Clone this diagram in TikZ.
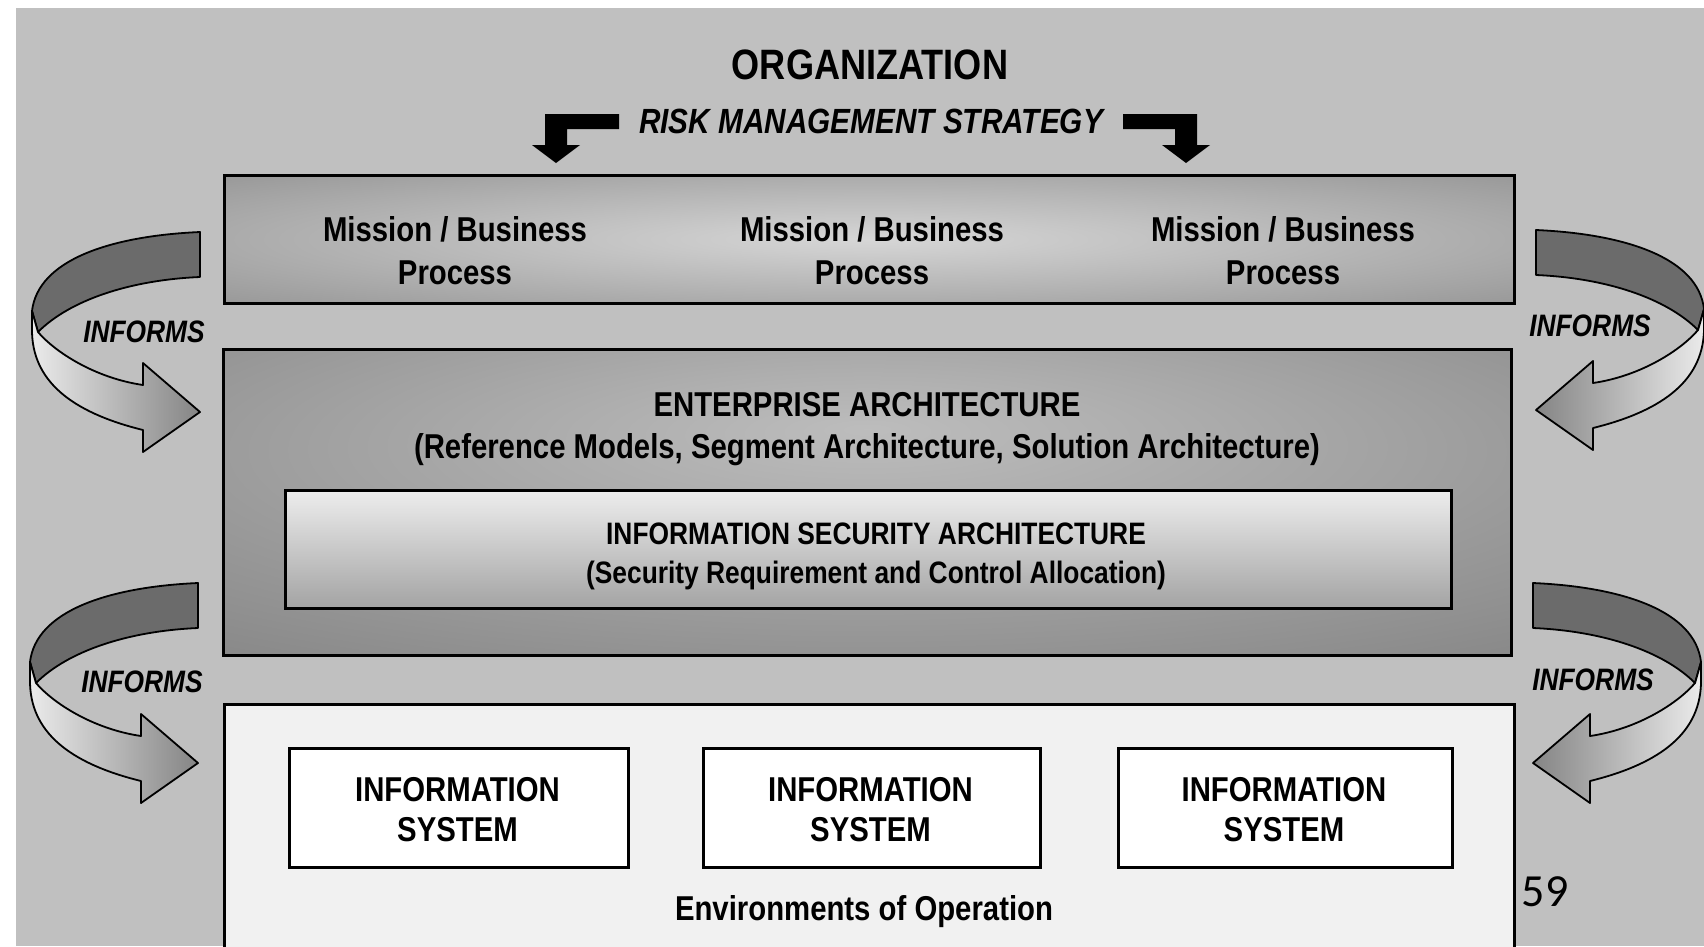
\documentclass[tikz,border=0pt]{standalone}
\usepackage{fontspec}
\setmainfont{Liberation Sans}[FakeStretch=0.85]
\newfontfamily\pagenumfont{Carlito}
\definecolor{bggray}{gray}{0.753}
\definecolor{missionOuter}{gray}{0.50}
\definecolor{missionInner}{gray}{0.84}
\definecolor{eaOuter}{gray}{0.46}
\definecolor{eaInner}{gray}{0.74}
\definecolor{isaTop}{gray}{0.93}
\definecolor{isaBottom}{gray}{0.64}
\definecolor{envfill}{gray}{0.945}
\definecolor{bandDark}{gray}{0.42}
\definecolor{bandLight}{gray}{0.92}
\definecolor{bandMid}{gray}{0.80}
\definecolor{bandTip}{gray}{0.52}
\pgfdeclareradialshading{missionglow}{\pgfpoint{0bp}{0bp}}{color(0bp)=(missionInner); color(50bp)=(missionOuter); color(75bp)=(missionOuter)}
\pgfdeclareradialshading{eaglow}{\pgfpoint{0bp}{12bp}}{color(0bp)=(eaInner); color(55bp)=(eaOuter); color(80bp)=(eaOuter)}
\newcommand\InformsArrow[3]{%
  \begin{scope}[#1]
    \filldraw[fill=bandDark, draw=black, line width=1.8pt, line join=round]
      (200,232) .. controls (110,236) and (38,260) .. (32,311)
      -- (38,332) .. controls (70,300) and (130,280) .. (200,277) -- cycle;
    \shadedraw[left color=#2, middle color=bandMid, right color=#3, draw=black, line width=1.8pt, line join=round]
      (38,332) .. controls (55,352) and (95,378) .. (143,385)
      -- (143,363) -- (200,412) -- (143,452) -- (143,430)
      .. controls (70,412) and (32,380) .. (32,330) -- (32,311) -- cycle;
  \end{scope}}
\begin{document}
\begin{tikzpicture}[x=1pt,y=-1pt,
  box/.style={draw=black, line width=2.5pt, inner sep=0pt, anchor=north west},
  lbl/.style={align=center, inner sep=0pt, text=black},
  mbfont/.style={font=\bfseries\fontsize{34.5}{43}\selectfont},
  eafont/.style={font=\bfseries\fontsize{34.5}{42}\selectfont},
  isafont/.style={font=\bfseries\fontsize{31}{39}\selectfont},
  isfont/.style={font=\bfseries\fontsize{34.5}{40}\selectfont},
  informsfont/.style={font=\bfseries\itshape\fontsize{31}{36}\selectfont},
  riskarrow/.style={fill=black}]
\useasboundingbox (0,0) rectangle (1704,946);
\clip (0,0) rectangle (1704,946);
\fill[white] (0,0) rectangle (1704,946);
\fill[bggray] (16,8) rectangle (1704,946);

% title
\node[lbl, font=\bfseries\fontsize{42.5}{46}\selectfont] (org) at (870,65) {ORGANIZATION};
\node[lbl, font=\bfseries\itshape\fontsize{35}{40}\selectfont] (risk) at (871,121) {RISK MANAGEMENT STRATEGY};
\fill[riskarrow] (619,114) -- (545,114) -- (545,145) -- (532,145) -- (556,163) -- (580,145) -- (567,145) -- (567,129) -- (619,129) -- cycle;
\fill[riskarrow] (1123,114) -- (1197,114) -- (1197,145) -- (1210,145) -- (1186,163) -- (1162,145) -- (1175,145) -- (1175,129) -- (1123,129) -- cycle;

% mission layer
\node[box, shade, shading=missionglow, minimum width=1290pt, minimum height=128pt] (mission) at (223,174) {};
\node[lbl, mbfont] (mbp1) at (455,251) {Mission / Business\\Process};
\node[lbl, mbfont] (mbp2) at (872,251) {Mission / Business\\Process};
\node[lbl, mbfont] (mbp3) at (1283,251) {Mission / Business\\Process};

% enterprise architecture
\node[box, shade, shading=eaglow, minimum width=1288pt, minimum height=306pt] (ea) at (222,348) {};
\node[lbl, eafont] (eatext) at (867,429) {ENTERPRISE ARCHITECTURE\\(Reference Models, Segment Architecture, Solution Architecture)};
\node[box, top color=isaTop, bottom color=isaBottom, minimum width=1166pt, minimum height=118pt] (isa) at (284,489) {};
\node[lbl, isafont] (isatext) at (876,556) {INFORMATION SECURITY ARCHITECTURE\\(Security Requirement and Control Allocation)};

% environments of operation
\node[box, fill=envfill, minimum width=1290pt, minimum height=280pt] (env) at (223,703) {};
\node[box, fill=white, minimum width=339pt, minimum height=119pt] (is1) at (288,747) {};
\node[box, fill=white, minimum width=337pt, minimum height=119pt] (is2) at (702,747) {};
\node[box, fill=white, minimum width=334pt, minimum height=119pt] (is3) at (1117,747) {};
\node[lbl, isfont] (is1text) at (457.5,810) {INFORMATION\\SYSTEM};
\node[lbl, isfont] (is2text) at (870.5,810) {INFORMATION\\SYSTEM};
\node[lbl, isfont] (is3text) at (1284,810) {INFORMATION\\SYSTEM};
\node[lbl, mbfont] (envtext) at (864,912) {Environments of Operation};

% informs arrows
\InformsArrow{shift={(0,0)}}{bandLight}{bandTip}
\InformsArrow{shift={(-2,351)}}{bandLight}{bandTip}
\InformsArrow{shift={(1736,-2)},xscale=-1}{bandTip}{bandLight}
\InformsArrow{shift={(1733,351)},xscale=-1}{bandTip}{bandLight}
\node[lbl, informsfont] (inf1) at (144,332) {INFORMS};
\node[lbl, informsfont] (inf2) at (142,682) {INFORMS};
\node[lbl, informsfont] (inf3) at (1590,326) {INFORMS};
\node[lbl, informsfont] (inf4) at (1593,680) {INFORMS};

% page number
\node[lbl, font=\pagenumfont\fontsize{46}{50}\selectfont] (pagenum) at (1545,892) {59};
\end{tikzpicture}
\end{document}
